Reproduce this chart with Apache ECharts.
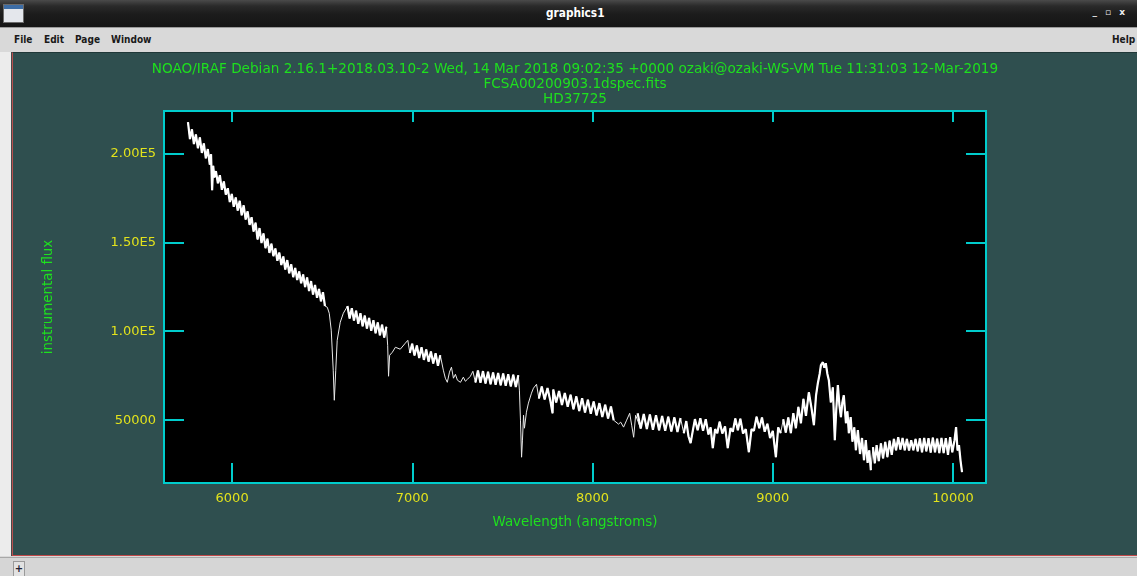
<!DOCTYPE html>
<html>
<head>
<meta charset="utf-8">
<title>graphics1</title>
<script src="https://cdn.jsdelivr.net/npm/echarts@6/dist/echarts.min.js"></script>
<style>
  html, body { margin: 0; padding: 0; }
  body { width: 1137px; height: 576px; overflow: hidden; position: relative; background: #d9d9d9; font-family: "DejaVu Sans", sans-serif; }
  #titlebar { position: absolute; left: 0; top: 0; width: 1137px; height: 27px;
    background: linear-gradient(#4a4a4a 0px, #2a2a2a 6px, #1c1c1c 14px, #151515 27px); border-bottom: 1px solid #9a9a9a; }
  #wicon { position: absolute; left: 3px; top: 4px; width: 19px; height: 17px; background: #e4e7ec; border: 1px solid #6b6b6b; }
  #wicon div { height: 4px; background: #3d6da6; }
  #wtitle { position: absolute; left: 546px; top: 6px; color: #fff; font-weight: bold; font-size: 12px; transform: scaleX(0.88); transform-origin: 0 0; }
  #wctl { position: absolute; right: 4px; top: 7px; color: #eee; font-size: 9px; letter-spacing: 8px; font-weight: bold; }
  #menubar { position: absolute; left: 0; top: 28px; width: 1137px; height: 24px; background: #d9d9d9; }
  .mi { position: absolute; top: 5px; font-size: 11px; font-weight: bold; color: #1a1a1a; transform: scaleX(0.82); transform-origin: 0 0; }
  #leftstrip { position: absolute; left: 0; top: 52px; width: 11px; height: 504px; background: #ececec; border-right: 1px solid #4a4a4a; }
  #chart { position: absolute; left: 12px; top: 52px; width: 1125px; height: 503px; border-left: 1px solid #b85050; border-top: 1px solid #203838; box-sizing: border-box; }
  #bottomline { position: absolute; left: 12px; top: 555px; width: 1125px; height: 1px; background: #c04848; }
  #statusbar { position: absolute; left: 0; top: 557px; width: 1137px; height: 19px; background: #d6d6d6; border-top: 1px solid #a8a8a8; }
  #plusbtn { position: absolute; left: 13px; top: 3px; width: 10px; height: 14px; border: 1px solid #9a9a9a; background: #e2e2e2; font-size: 10px; line-height: 14px; text-align: center; color: #223; font-weight: bold; }
</style>
</head>
<body>
<div id="titlebar">
  <div id="wicon"><div></div></div>
  <div id="wtitle">graphics1</div>
  <div id="wctl">_▫x</div>
</div>
<div id="menubar">
  <span class="mi" style="left:14px">File</span>
  <span class="mi" style="left:44px">Edit</span>
  <span class="mi" style="left:75px">Page</span>
  <span class="mi" style="left:111px">Window</span>
  <span class="mi" style="left:1112px">Help</span>
</div>
<div id="leftstrip"></div>
<div id="chart"></div>
<div id="bottomline"></div>
<div id="statusbar"><div id="plusbtn">+</div></div>
<script>
// Spectrum of HD37725, FCSA00200903.1dspec.fits
// Each segment: [wavelength (Angstrom), flux (thousands of counts)]
const blueSlope = [
  [5755,217.6],[5766,208.0],[5777,213.5],[5788,205.2],[5799,210.6],[5810,202.9],[5821,209.0],[5832,200.2],
  [5843,205.6],[5854,197.2],[5865,202.4],[5876,193.6],[5883,199.5],[5889,179.3],[5895,193.0],[5901,186.5],
  [5910,190.0],[5921,183.2],[5932,187.7],[5943,179.5],[5954,184.2],[5965,176.8],[5976,180.4],[5987,172.6],
  [5998,177.2],[6009,170.0],[6020,175.2],[6031,167.8],[6042,173.3],[6053,165.2],[6064,170.8],[6075,162.8],
  [6086,167.4],[6097,159.8],[6108,164.1],[6119,156.0],[6130,161.0],[6141,151.6],[6152,158.0],[6163,149.6],
  [6174,155.0],[6185,146.7],[6196,152.0],[6207,144.0],[6218,149.2],[6229,142.2],[6240,146.5],[6251,139.6],
  [6262,144.2],[6273,137.2],[6284,142.0],[6295,134.7],[6306,140.0],[6317,132.6],[6328,137.6],[6339,130.4],
  [6350,135.6],[6361,128.8],[6372,133.6],[6383,127.0],[6394,131.9],[6405,124.8],[6416,130.2],[6427,122.6],
  [6438,128.2],[6449,120.6],[6460,126.0],[6471,118.8],[6482,123.8],[6493,116.8],[6504,122.0],[6515,114.2]
];
const hAlpha = [
  [6528,113.5],[6539,110.1],[6550,100.6],[6561,78.1],[6567,61.2],[6575,78.1],[6583,94.9],[6600,105.1],
  [6617,110.1],[6633,112.9]
];
const band6700 = [
  [6640,114.2],[6652,107.2],[6664,113.0],[6676,106.0],[6688,111.6],[6700,104.2],[6712,110.2],[6724,102.8],
  [6736,108.8],[6748,101.5],[6760,107.5],[6772,100.2],[6784,106.2],[6796,98.9],[6808,105.0],[6820,97.7],
  [6832,103.7],[6844,96.4],[6856,102.5]
];
const bBand = [
  [6863,92.1],[6868,74.7],[6874,86.5],[6889,88.2],[6906,91.0],[6917,92.1],[6933,89.9],[6944,91.0],
  [6961,93.3],[6975,94.9]
];
const band7000 = [
  [6986,87.8],[6999,93.0],[7012,86.4],[7025,92.0],[7038,85.0],[7051,91.0],[7064,83.9],[7077,89.8],
  [7090,82.9],[7103,88.6],[7116,81.8],[7129,87.6],[7142,80.6],[7155,86.5]
];
const noise7200 = [
  [7172,78.1],[7183,73.6],[7194,71.3],[7206,77.0],[7217,79.8],[7228,73.6],[7239,75.8],[7250,72.5],
  [7267,71.3],[7283,74.2],[7294,71.9],[7306,73.0],[7322,74.7],[7336,77.5]
];
const band7400 = [
  [7350,71.2],[7364,77.9],[7378,71.0],[7392,77.6],[7406,70.6],[7420,77.2],[7434,70.2],[7448,76.8],
  [7462,69.9],[7476,76.5],[7490,69.6],[7504,76.2],[7518,69.3],[7532,75.9],[7546,69.0],[7560,75.6],
  [7574,68.7],[7588,75.3]
];
const aBand = [
  [7594,66.9],[7600,50.0],[7606,29.2],[7611,38.8],[7617,52.8],[7622,45.5],[7633,54.5],[7644,59.6],
  [7661,65.2],[7672,68.0],[7689,70.2]
];
const band7900 = [
  [7702,62.2],[7718,69.0],[7734,61.6],[7750,68.1],[7766,60.8],[7778,53.9],[7782,67.2],[7798,60.0],
  [7814,66.4],[7830,58.5],[7846,65.3],[7862,57.6],[7878,64.3],[7894,56.1],[7910,63.4],[7926,55.1],
  [7942,62.4],[7958,54.3],[7974,61.5],[7990,53.6],[8006,60.5],[8022,52.7],[8038,59.6],[8054,51.8],
  [8070,58.7],[8086,50.9],[8102,57.7],[8117,50.0]
];
const noise8200 = [
  [8128,51.1],[8144,47.8],[8156,48.9],[8172,46.1],[8189,50.0],[8206,53.9],[8217,47.2],[8228,40.4],
  [8239,52.8]
];
const band8400 = [
  [8250,53.9],[8267,45.3],[8284,53.5],[8301,45.0],[8318,53.2],[8335,44.6],[8352,52.8],[8369,44.3],
  [8386,52.4],[8403,44.0],[8420,52.0],[8437,43.7],[8454,51.6],[8471,43.4],[8488,51.2]
];
const paschen = [
  [8506,42.7],[8520,49.5],[8532,41.0],[8544,37.1],[8556,44.0],[8568,50.6],[8583,44.4],[8598,51.1],
  [8613,44.0],[8628,50.5],[8643,42.0],[8655,46.0],[8667,34.3],[8680,45.0],[8692,42.7],[8705,49.2],
  [8720,42.5],[8735,46.5],[8750,34.3],[8765,45.5],[8778,43.5],[8792,51.0],[8806,44.4],[8820,50.8],
  [8835,42.5],[8850,45.0],[8867,32.0],[8882,45.0],[8895,44.0],[8910,52.0],[8925,45.5],[8940,51.5],
  [8955,43.5],[8970,48.0],[8985,40.0],[9000,44.0],[9017,29.2],[9030,46.0],[9044,42.7]
];
const peak9300 = [
  [9058,50.5],[9072,43.0],[9086,51.5],[9100,42.7],[9114,54.0],[9128,45.5],[9142,57.5],[9156,48.3],
  [9170,62.0],[9184,52.5],[9200,65.7],[9214,57.3],[9228,47.2],[9240,64.0],[9250,70.8],[9260,76.0],
  [9267,80.9],[9278,82.6],[9286,79.5],[9294,82.0],[9303,76.0],[9311,72.5],[9322,60.0],[9333,68.5],
  [9344,38.8],[9352,55.6],[9361,69.7],[9370,58.0],[9378,51.7],[9386,60.0],[9394,64.0],[9406,48.3],
  [9414,55.0],[9422,42.7],[9432,51.7],[9442,38.0],[9452,46.0],[9461,33.1],[9472,44.4],[9484,31.0],
  [9495,40.0],[9506,27.5],[9516,38.8],[9526,26.0],[9535,33.0],[9544,21.9]
];
const redTail = [
  [9556,34.8],[9566,25.8],[9576,36.0],[9588,27.0],[9600,37.0],[9612,28.5],[9624,37.8],[9636,29.2],
  [9648,38.5],[9660,30.5],[9672,39.5],[9684,33.1],[9696,40.4],[9708,33.5],[9720,40.0],[9732,33.1],
  [9744,39.5],[9756,33.0],[9768,38.8],[9780,33.1],[9792,39.5],[9804,32.5],[9816,39.8],[9828,32.0],
  [9840,40.0],[9852,32.5],[9864,39.9],[9876,31.8],[9888,40.2],[9900,32.0],[9912,39.6],[9924,31.5],
  [9936,40.0],[9948,31.5],[9960,39.9],[9972,30.5],[9984,40.5],[9996,32.0],[10008,38.5],[10017,46.1],
  [10025,33.0],[10033,36.0],[10042,27.0],[10050,20.8]
];

const xTicks = [6000, 7000, 8000, 9000, 10000];
const yTicks = [50000, 100000, 150000, 200000];
const titleLines = [
  'NOAO/IRAF Debian 2.16.1+2018.03.10-2 Wed, 14 Mar 2018 09:02:35 +0000 ozaki@ozaki-WS-VM Tue 11:31:03 12-Mar-2019',
  'FCSA00200903.1dspec.fits',
  'HD37725'
];
const xLabel = 'Wavelength (angstroms)';
const yLabel = 'instrumental flux';

// full spectrum, in counts
const allSegments = [blueSlope, hAlpha, band6700, bBand, band7000, noise7200, band7400,
  aBand, band7900, noise8200, band8400, paschen, peak9300, redTail];
const toCounts = p => [p[0], p[1] * 1000];
const spectrum = [].concat(...allSegments).map(toCounts);

// fringed stretches are drawn again with a heavier pen
const fringed = [blueSlope, band6700, band7000, band7400, band7900, band8400, paschen, peak9300, redTail];
const fringeData = [];
fringed.forEach(seg => {
  seg.forEach(p => fringeData.push(toCounts(p)));
  fringeData.push([seg[seg.length - 1][0], null]);
});

const FONT = 'DejaVu Sans';
const GREEN = '#1ee01e';
const YELLOW = '#e2e21c';
const CYAN = '#00cccc';

function yFmt(v) {
  return v >= 100000 ? (v / 100000).toFixed(2) + 'E5' : String(v);
}

const chart = echarts.init(document.getElementById('chart'), null, { renderer: 'canvas' });
chart.setOption({
  backgroundColor: '#2f4f4f',
  animation: false,
  title: {
    text: titleLines.join('\n'),
    left: 'center',
    top: 4,
    textStyle: { color: GREEN, fontFamily: FONT, fontSize: 13.6, fontWeight: 'normal', lineHeight: 15 }
  },
  grid: {
    left: 151, top: 58, width: 822, height: 372,
    show: true, backgroundColor: '#000', borderColor: CYAN, borderWidth: 2
  },
  xAxis: [
    {
      type: 'value', position: 'bottom', min: 5622, max: 10183,
      name: xLabel, nameLocation: 'middle', nameGap: 33,
      nameTextStyle: { color: GREEN, fontFamily: FONT, fontSize: 13.4 },
      axisLine: { show: false },
      axisTick: { show: true, inside: true, length: 20, customValues: xTicks, lineStyle: { color: CYAN, width: 2 } },
      axisLabel: { show: true, customValues: xTicks, formatter: v => String(v), color: YELLOW, fontFamily: FONT, fontSize: 13, margin: 9 },
      splitLine: { show: false }
    },
    {
      type: 'value', position: 'top', min: 5622, max: 10183,
      axisLine: { show: false },
      axisTick: { show: true, inside: true, length: 11, customValues: xTicks, lineStyle: { color: CYAN, width: 2 } },
      axisLabel: { show: false },
      splitLine: { show: false }
    }
  ],
  yAxis: [
    {
      type: 'value', position: 'left', min: 14700, max: 223800,
      name: yLabel, nameLocation: 'middle', nameGap: 109, nameRotate: 90,
      nameTextStyle: { color: GREEN, fontFamily: FONT, fontSize: 13.4 },
      axisLine: { show: false },
      axisTick: { show: true, inside: true, length: 20, customValues: yTicks, lineStyle: { color: CYAN, width: 2 } },
      axisLabel: { show: true, customValues: yTicks, formatter: yFmt, color: YELLOW, fontFamily: FONT, fontSize: 13, margin: 8 },
      splitLine: { show: false }
    },
    {
      type: 'value', position: 'right', min: 14700, max: 223800,
      axisLine: { show: false },
      axisTick: { show: true, inside: true, length: 20, customValues: yTicks, lineStyle: { color: CYAN, width: 2 } },
      axisLabel: { show: false },
      splitLine: { show: false }
    }
  ],
  series: [
    {
      type: 'line', xAxisIndex: 0, yAxisIndex: 0,
      data: spectrum,
      showSymbol: false, symbol: 'none',
      lineStyle: { color: '#e8e8e8', width: 1 }
    },
    {
      type: 'line', xAxisIndex: 0, yAxisIndex: 0,
      data: fringeData,
      showSymbol: false, symbol: 'none', connectNulls: false,
      lineStyle: { color: '#ffffff', width: 2.2 }
    }
  ]
});
</script>
</body>
</html>
